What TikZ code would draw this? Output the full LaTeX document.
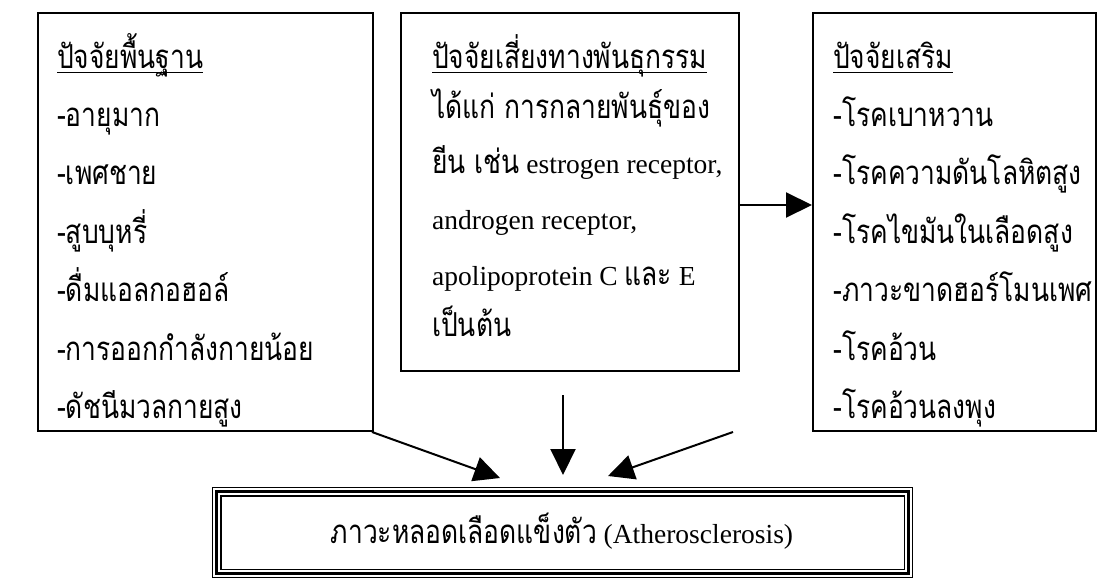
\documentclass[tikz,border=0pt]{standalone}
\usepackage{fontspec}
\setmainfont{Liberation Serif}
\newfontfamily\thaifont[Script=Thai,Scale=1.2,FakeStretch=0.8]{Loma}
\usetikzlibrary{arrows.meta,calc}
\newcommand\T[1]{{\thaifont #1}}
\newcommand\ulx[1]{\setbox0=\hbox{#1}\rlap{\rule[-5pt]{\wd0}{1.2pt}}\box0}
\tikzset{
  x=1pt, y=-1pt,
  box/.style={draw, line width=1.8pt, anchor=north west, inner sep=0pt},
  txt/.style={anchor=base west, inner sep=0pt, font=\fontsize{27.5pt}{27.5pt}\selectfont},
  ctxt/.style={anchor=base, inner sep=0pt, font=\fontsize{27.5pt}{27.5pt}\selectfont},
  arr/.style={line width=2pt, -{Triangle[length=26pt,width=25pt]}},
}
\begin{document}
\begin{tikzpicture}
\useasboundingbox (0,0) rectangle (1102,578);
% boxes
\node[box, minimum width=335pt, minimum height=418pt] (basic) at (37,12) {};
\node[box, minimum width=338pt, minimum height=358pt] (genetic) at (400,12) {};
\node[box, minimum width=283pt, minimum height=418pt] (extra) at (812,12) {};
\node[draw, line width=1.2pt, anchor=north west, inner sep=0pt, minimum width=700pt, minimum height=90pt] (athero) at (212,487) {};
\draw[line width=3pt] ($(athero.north west)+(4.5,4.5)$) rectangle ($(athero.south east)+(-4.5,-4.5)$);
\draw[line width=1.2pt] ($(athero.north west)+(9,9)$) rectangle ($(athero.south east)+(-9,-9)$);
% left text
\node[txt] (b0) at (57,68) {\ulx{\T{ปัจจัยพื้นฐาน}}};
\node[txt] (b1) at (57,126) {\T{-อายุมาก}};
\node[txt] (b2) at (57,184) {\T{-เพศชาย}};
\node[txt] (b3) at (57,243) {\T{-สูบบุหรี่}};
\node[txt] (b4) at (57,301) {\T{-ดื่มแอลกอฮอล์}};
\node[txt] (b5) at (57,360) {\T{-การออกกำลังกายน้อย}};
\node[txt] (b6) at (57,418) {\T{-ดัชนีมวลกายสูง}};
% middle text
\node[txt] (g0) at (432,68) {\ulx{\T{ปัจจัยเสี่ยงทางพันธุกรรม}}};
\node[txt] (g1) at (432,118) {\T{ได้แก่ การกลายพันธุ์ของ}};
\node[txt] (g2) at (432,173) {\T{ยีน เช่น} estrogen receptor,};
\node[txt] (g3) at (432,229) {androgen receptor,};
\node[txt] (g4) at (432,285) {apolipoprotein C \T{และ} E};
\node[txt] (g5) at (432,336) {\T{เป็นต้น}};
% right text
\node[txt] (e0) at (833,68) {\ulx{\T{ปัจจัยเสริม}}};
\node[txt] (e1) at (833,126) {\T{-โรคเบาหวาน}};
\node[txt] (e2) at (833,184) {\T{-โรคความดันโลหิตสูง}};
\node[txt] (e3) at (833,243) {\T{-โรคไขมันในเลือดสูง}};
\node[txt] (e4) at (833,301) {\T{-ภาวะขาดฮอร์โมนเพศ}};
\node[txt] (e5) at (833,360) {\T{-โรคอ้วน}};
\node[txt] (e6) at (833,418) {\T{-โรคอ้วนลงพุง}};
% bottom text
\node[ctxt] (a0) at (562,543) {\T{ภาวะหลอดเลือดแข็งตัว} (Atherosclerosis)};
% connectors
\coordinate (gE) at ($(genetic.north east)+(0,193)$);
\coordinate (xW) at ($(extra.north west)+(0,193)$);
\draw[arr] (gE) -- (xW);
\coordinate (s1) at (372,432);
\coordinate (t1) at (500,478);
\coordinate (s2) at (563,395);
\coordinate (t2) at (563,475);
\coordinate (s3) at (733,432);
\coordinate (t3) at (608,476);
\draw[arr] (s1) -- (t1);
\draw[arr] (s2) -- (t2);
\draw[arr] (s3) -- (t3);
\end{tikzpicture}
\end{document}
